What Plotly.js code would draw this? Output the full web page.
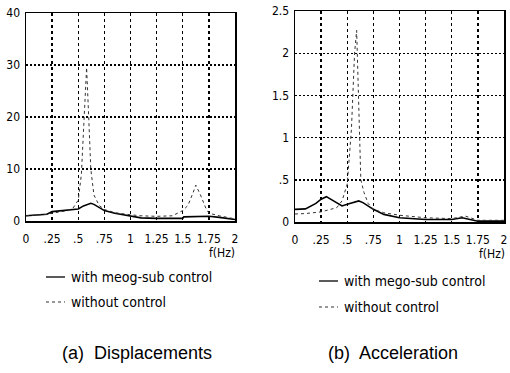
<!DOCTYPE html>
<html>
<head>
<meta charset="utf-8">
<script src="https://cdn.plot.ly/plotly-3.0.1.min.js"></script>
<style>html,body{margin:0;padding:0;background:#fff;}#chart{width:510px;height:373px;}</style>
</head>
<body>
<div id="chart"></div>
<script>
// Tick labels
var xTickVals = [0, 0.25, 0.5, 0.75, 1, 1.25, 1.5, 1.75, 2];
var xTickText = ["0", ".25", ".5", ".75", "1", "1.25", "1.5", "1.75", "2"];
var dispTickVals = [0, 10, 20, 30, 40];
var dispTickText = ["0", "10", "20", "30", "40"];
var accTickVals = [0, 0.5, 1, 1.5, 2, 2.5];
var accTickText = ["0", ".5", "1", "1.5", "2", "2.5"];

// (a) Displacements
var dispWithF = [0, 0.1, 0.2, 0.25, 0.3, 0.4, 0.5, 0.55, 0.6, 0.62, 0.65, 0.7, 0.75, 0.85, 1.0, 1.1, 1.25, 1.5, 1.51, 1.75, 1.85, 2.0];
var dispWithY = [1.0, 1.1, 1.3, 1.8, 1.9, 2.0, 2.3, 2.9, 3.3, 3.4, 3.2, 2.6, 2.0, 1.5, 1.0, 0.6, 0.5, 0.5, 0.8, 0.9, 0.7, 0.3];
var dispWithoutF = [0, 0.1, 0.2, 0.25, 0.3, 0.4, 0.45, 0.5, 0.53, 0.55, 0.58, 0.6, 0.62, 0.65, 0.7, 0.75, 0.85, 1.0, 1.1, 1.25, 1.4, 1.5, 1.55, 1.6, 1.625, 1.67, 1.72, 1.75, 1.85, 2.0];
var dispWithoutY = [1.0, 1.1, 1.3, 1.5, 1.7, 2.0, 2.5, 4.0, 9, 18, 29.5, 20, 10, 5, 3, 2.2, 1.6, 1.2, 1.0, 0.9, 1.0, 2.0, 3.0, 5.5, 6.9, 5, 2.5, 1.5, 1.0, 0.4];

// (b) Acceleration
var accWithF = [0, 0.1, 0.2, 0.25, 0.3, 0.35, 0.45, 0.5, 0.55, 0.61, 0.65, 0.75, 0.85, 1.0, 1.25, 1.5, 1.6, 1.7, 1.75, 2.0];
var accWithY = [0.15, 0.155, 0.22, 0.27, 0.30, 0.26, 0.19, 0.21, 0.23, 0.25, 0.23, 0.15, 0.09, 0.05, 0.03, 0.03, 0.05, 0.02, 0.01, 0.01];
var accWithoutF = [0, 0.1, 0.25, 0.4, 0.45, 0.5, 0.54, 0.57, 0.59, 0.61, 0.63, 0.66, 0.7, 0.75, 0.85, 1.0, 1.25, 1.5, 1.63, 1.75, 2.0];
var accWithoutY = [0.095, 0.1, 0.12, 0.17, 0.25, 0.45, 1.1, 2.0, 2.27, 1.2, 0.5, 0.35, 0.22, 0.15, 0.11, 0.08, 0.05, 0.04, 0.07, 0.02, 0.02];

var seriesNames = ["with meog-sub control", "without control"];

var tickFont = {family: "DejaVu Sans Condensed, Liberation Sans Narrow, sans-serif", size: 12, color: "#000"};

var solid = {color: "#000", width: 1.6};
var dotted = {color: "#333", width: 1, dash: "dot"};

var traces = [
  {x: dispWithF, y: dispWithY, xaxis: "x", yaxis: "y", mode: "lines", line: solid, name: seriesNames[0], showlegend: false},
  {x: dispWithoutF, y: dispWithoutY, xaxis: "x", yaxis: "y", mode: "lines", line: dotted, name: seriesNames[1], showlegend: false},
  {x: accWithF, y: accWithY, xaxis: "x2", yaxis: "y2", mode: "lines", line: solid, name: seriesNames[0], showlegend: false},
  {x: accWithoutF, y: accWithoutY, xaxis: "x2", yaxis: "y2", mode: "lines", line: dotted, name: seriesNames[1], showlegend: false}
];

function xax(domain, anchor) {
  return {
    domain: domain, anchor: anchor, range: [0, 2], tickvals: xTickVals, ticktext: xTickText,
    tickfont: tickFont, showgrid: true, gridcolor: "#000", griddash: "3px,3px", gridwidth: 1.4,
    showline: true, linecolor: "#000", linewidth: 1.5, mirror: true, zeroline: false,
    ticks: "", ticklabelstandoff: 6, automargin: false, fixedrange: true
  };
}
function yax(domain, anchor, range, tv, tt) {
  return {
    domain: domain, anchor: anchor, range: range, tickvals: tv, ticktext: tt,
    tickfont: tickFont, showgrid: true, gridcolor: "#000", griddash: "2px,2px", gridwidth: 1.4,
    showline: true, linecolor: "#000", linewidth: 1.5, mirror: true, zeroline: false,
    ticks: "", ticklabelstandoff: 2, automargin: false, fixedrange: true
  };
}

var H = 373, W = 510;
function py(pxFromTop) { return (H - pxFromTop) / H; }
function px(p) { return p / W; }

var legFont = {family: "DejaVu Sans Condensed, Liberation Sans Narrow, sans-serif", size: 14, color: "#000"};
var capFont = {family: "Liberation Sans, Arial, sans-serif", size: 18, color: "#000"};

var layout = {
  width: W, height: H,
  margin: {l: 0, r: 0, t: 0, b: 0},
  paper_bgcolor: "#fff", plot_bgcolor: "#fff",
  showlegend: false,
  xaxis: xax([px(26), px(235)], "y"),
  yaxis: yax([py(221), py(13)], "x", [0, 40], dispTickVals, dispTickText),
  xaxis2: xax([px(295), px(504)], "y2"),
  yaxis2: yax([py(222), py(11)], "x2", [0, 2.5], accTickVals, accTickText),
  shapes: [
    {type: "line", xref: "paper", yref: "paper", x0: px(46), x1: px(65), y0: py(277), y1: py(277), line: {color: "#000", width: 1.3}},
    {type: "line", xref: "paper", yref: "paper", x0: px(46), x1: px(65), y0: py(302), y1: py(302), line: {color: "#333", width: 1, dash: "dot"}},
    {type: "line", xref: "paper", yref: "paper", x0: px(319), x1: px(338), y0: py(281), y1: py(281), line: {color: "#000", width: 1.3}},
    {type: "line", xref: "paper", yref: "paper", x0: px(319), x1: px(338), y0: py(307), y1: py(307), line: {color: "#333", width: 1, dash: "dot"}}
  ],
  annotations: [
    {xref: "paper", yref: "paper", x: px(237), y: py(253), text: "f(Hz)", showarrow: false, xanchor: "right", yanchor: "middle", font: tickFont},
    {xref: "paper", yref: "paper", x: px(507), y: py(254), text: "f(Hz)", showarrow: false, xanchor: "right", yanchor: "middle", font: tickFont},
    {xref: "paper", yref: "paper", x: px(69), y: py(277), text: seriesNames[0], showarrow: false, xanchor: "left", yanchor: "middle", font: legFont},
    {xref: "paper", yref: "paper", x: px(69), y: py(302), text: seriesNames[1], showarrow: false, xanchor: "left", yanchor: "middle", font: legFont},
    {xref: "paper", yref: "paper", x: px(342), y: py(281), text: "with mego-sub control", showarrow: false, xanchor: "left", yanchor: "middle", font: legFont},
    {xref: "paper", yref: "paper", x: px(342), y: py(307), text: seriesNames[1], showarrow: false, xanchor: "left", yanchor: "middle", font: legFont},
    {xref: "paper", yref: "paper", x: px(137), y: py(353), text: "(a)  Displacements", showarrow: false, xanchor: "center", yanchor: "middle", font: capFont},
    {xref: "paper", yref: "paper", x: px(393), y: py(353), text: "(b)  Acceleration", showarrow: false, xanchor: "center", yanchor: "middle", font: capFont}
  ]
};

Plotly.newPlot("chart", traces, layout, {displayModeBar: false, staticPlot: true});
</script>
</body>
</html>
